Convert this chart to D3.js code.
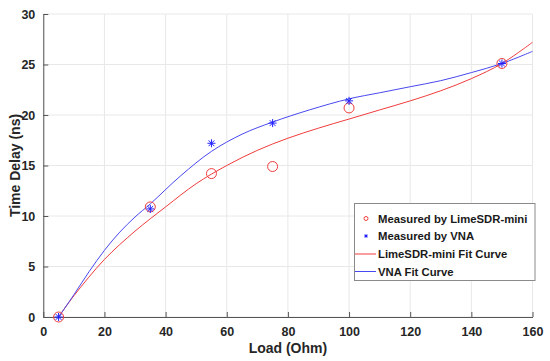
<!DOCTYPE html>
<html><head><meta charset="utf-8">
<script src="https://cdn.jsdelivr.net/npm/d3@7"></script>
<style>body{margin:0;background:#fff}svg{display:block;font-family:"Liberation Sans",Arial,sans-serif}</style>
</head><body><svg id="c" width="550" height="361"></svg>
<script>
// Data
const loads = [5, 35, 55, 75, 100, 150];
const limeMeasured = [0, 10.9, 14.2, 14.9, 20.7, 25.1];
const vnaMeasured = [0, 10.7, 17.2, 19.2, 21.4, 25.1];
const limeFitX = [5, 10, 20, 30, 40, 50, 60, 70, 80, 90, 100, 110, 120, 130, 140, 150, 160];
const limeFit = [0, 2.1, 5.7, 8.5, 10.9, 13.2, 15.0, 16.5, 17.7, 18.7, 19.6, 20.5, 21.4, 22.4, 23.6, 25.1, 27.2];
const vnaFitX = [5, 10, 15, 20, 25, 30, 35, 45, 55, 65, 75, 87, 100, 110, 120, 130, 140, 150, 160];
const vnaFit = [0, 2.2, 4.5, 6.6, 8.4, 9.9, 11.2, 14.0, 16.4, 18.1, 19.3, 20.5, 21.6, 22.2, 22.8, 23.4, 24.2, 25.1, 26.3];
const xTicks = [0, 20, 40, 60, 80, 100, 120, 140, 160];
const yTicks = [0, 5, 10, 15, 20, 25, 30];
const legendLabels = ["Measured by LimeSDR-mini", "Measured by VNA", "LimeSDR-mini Fit Curve", "VNA Fit Curve"];

const svg = d3.select("#c");
const L = 43.3, R = 532.5, T = 14, B = 317;
const x = d3.scaleLinear().domain([0, 160]).range([L, R]);
const y = d3.scaleLinear().domain([0, 30]).range([B, T]);
const RED = "#f03c3c", BLUE = "#4848f0", AX = "#555";

// grid
const g = svg.append("g");
g.selectAll(".gx").data(xTicks).join("line")
  .attr("x1", d => x(d)).attr("x2", d => x(d)).attr("y1", T).attr("y2", B)
  .attr("stroke", "#e8e8e8").attr("stroke-width", 1);
g.selectAll(".gy").data(yTicks).join("line")
  .attr("x1", L).attr("x2", R).attr("y1", d => y(d)).attr("y2", d => y(d))
  .attr("stroke", "#e8e8e8").attr("stroke-width", 1);

// axes
const xa = svg.append("g").attr("transform", `translate(0,${B})`)
  .call(d3.axisBottom(x).tickValues(xTicks).tickSizeInner(-5).tickSizeOuter(0).tickPadding(10));
const ya = svg.append("g").attr("transform", `translate(${L},0)`)
  .call(d3.axisLeft(y).tickValues(yTicks).tickSizeInner(-5).tickSizeOuter(0).tickPadding(8));
[xa, ya].forEach(a => {
  a.select(".domain").attr("stroke", AX);
  a.selectAll(".tick line").attr("stroke", AX);
  a.selectAll(".tick text").attr("fill", "#262626").attr("font-size", 12.5).attr("font-weight", "bold")
    .attr("font-family", "Liberation Sans, Arial, sans-serif");
});

// titles
svg.append("text").attr("x", (L + R) / 2).attr("y", 353).attr("text-anchor", "middle")
  .attr("font-size", 14).attr("font-weight", "bold").attr("fill", "#262626").text("Load (Ohm)");
svg.append("text").attr("transform", `translate(20,${(T + B) / 2}) rotate(-90)`).attr("text-anchor", "middle")
  .attr("font-size", 14).attr("font-weight", "bold").attr("fill", "#262626").text("Time Delay (ns)");

// fit curves
const line = d3.line().x(d => x(d[0])).y(d => y(d[1])).curve(d3.curveCatmullRom.alpha(0.5));
svg.append("path").datum(limeFitX.map((v, i) => [v, limeFit[i]])).attr("d", line)
  .attr("fill", "none").attr("stroke", RED).attr("stroke-width", 1);
svg.append("path").datum(vnaFitX.map((v, i) => [v, vnaFit[i]])).attr("d", line)
  .attr("fill", "none").attr("stroke", BLUE).attr("stroke-width", 1);

// markers
function star(sel, cx, cy, r, color) {
  const gg = sel.append("g").attr("stroke", color).attr("stroke-width", 1);
  const d = r * 0.72;
  gg.append("line").attr("x1", cx - r).attr("x2", cx + r).attr("y1", cy).attr("y2", cy);
  gg.append("line").attr("x1", cx).attr("x2", cx).attr("y1", cy - r).attr("y2", cy + r);
  gg.append("line").attr("x1", cx - d).attr("x2", cx + d).attr("y1", cy - d).attr("y2", cy + d);
  gg.append("line").attr("x1", cx - d).attr("x2", cx + d).attr("y1", cy + d).attr("y2", cy - d);
}
svg.selectAll(".lm").data(loads.map((v, i) => [v, limeMeasured[i]])).join("circle")
  .attr("cx", d => x(d[0])).attr("cy", d => y(d[1])).attr("r", 5)
  .attr("fill", "none").attr("stroke", RED).attr("stroke-width", 1);
loads.forEach((v, i) => star(svg, x(v), y(vnaMeasured[i]), 4, "#2020ff"));

// legend
const lg = svg.append("g");
lg.append("rect").attr("x", 354.5).attr("y", 203.5).attr("width", 180.5).attr("height", 77)
  .attr("fill", "#fff").attr("stroke", "#8a8a8a").attr("stroke-width", 1);
const rowY = [218.5, 236, 254, 271.5];
lg.append("circle").attr("cx", 366).attr("cy", rowY[0]).attr("r", 2).attr("fill", "none").attr("stroke", RED);
star(lg, 366, rowY[1], 1.8, "#2020ff");
lg.append("line").attr("x1", 355).attr("x2", 376).attr("y1", rowY[2]).attr("y2", rowY[2]).attr("stroke", RED);
lg.append("line").attr("x1", 355).attr("x2", 376).attr("y1", rowY[3]).attr("y2", rowY[3]).attr("stroke", BLUE);
lg.selectAll(".lt").data(legendLabels).join("text")
  .attr("x", 378).attr("y", (d, i) => rowY[i]).attr("dy", "0.36em")
  .attr("font-size", 11.3).attr("font-weight", "bold").attr("fill", "#1a1a1a").text(d => d);
</script></body></html>
